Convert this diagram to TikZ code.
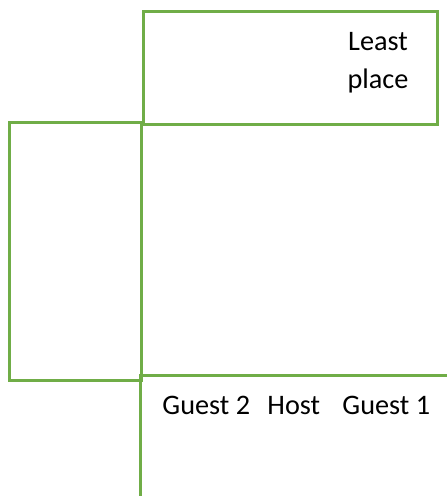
\documentclass[tikz,border=0pt]{standalone}
\usepackage{fontspec}
\setmainfont{Carlito}
\definecolor{seatgreen}{HTML}{70AD47}
\tikzset{wall/.style={draw=seatgreen, line width=1.2pt},
  seatlabel/.style={inner sep=0pt, anchor=base west}}

\begin{document}
\begin{tikzpicture}[x=0.4pt,y=-0.4pt,line join=miter,font=\fontsize{11.3}{15.2}\selectfont]
	\useasboundingbox (0,0) rectangle (447,496);
	\clip (0,0) rectangle (447,496);
	% top, left and bottom tables
	\draw[wall] (144,11.5) rectangle (438,124);
	\draw[wall] (10,122) rectangle (142,380);
	\draw[wall] (140.5,375) rectangle (470,520);
	% labels
	\node[inner sep=0pt, align=center, anchor=base] (least) at (378,88) {Least\\place};
	\node[seatlabel] (guesttwo) at (162,414) {Guest 2};
	\node[seatlabel] (host) at (267,414) {Host};
	\node[seatlabel] (guestone) at (342,414) {Guest 1};
\end{tikzpicture}
\end{document}
